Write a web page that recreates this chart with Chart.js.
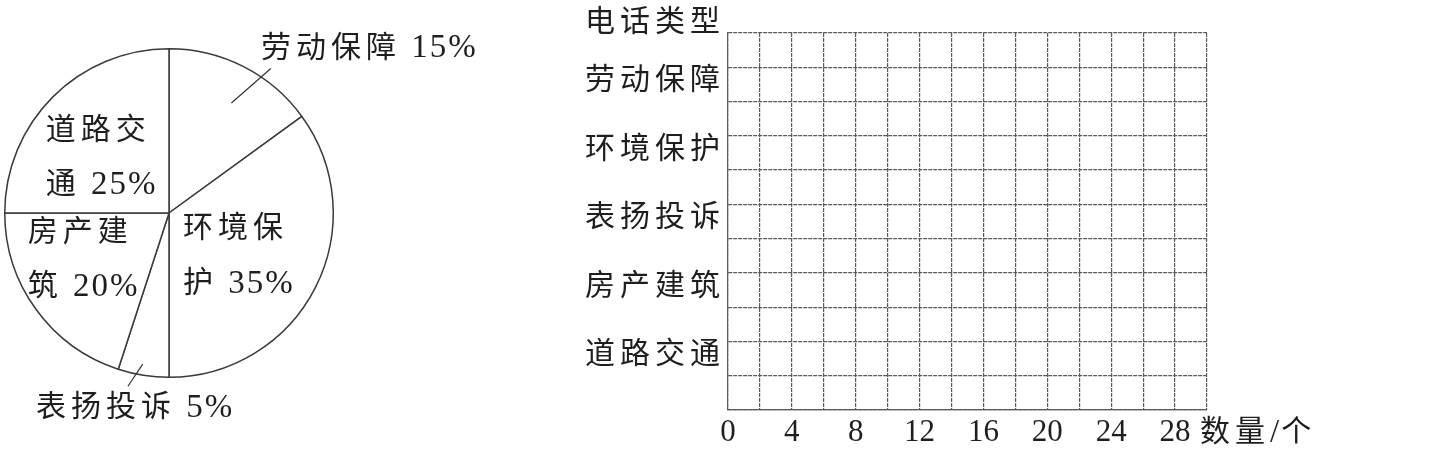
<!DOCTYPE html>
<html>
<head>
<meta charset="utf-8">
<script src="https://cdn.jsdelivr.net/npm/chart.js@4/dist/chart.umd.min.js"></script>
<style>
    html, body { margin: 0; padding: 0; background: #fff; }
    #wrap { position: relative; width: 1451px; height: 449px; }
    #pieBox { position: absolute; left: 0; top: 0; width: 500px; height: 449px; }
    #barBox { position: absolute; left: 560px; top: 0; width: 891px; height: 449px; }
</style>
</head>
<body>
<div id="wrap">
    <div id="pieBox"><canvas id="pieChart"></canvas></div>
    <div id="barBox"><canvas id="barChart"></canvas></div>
</div>
<script>
// phone call types, same order in the pie (clockwise from top) and the grid (top to bottom)
const categories = ['劳动保障', '环境保护', '表扬投诉', '房产建筑', '道路交通'];
const percents = [15, 35, 5, 20, 25];
// the grid on the right is left blank in the original (to be filled in)
const counts = [];
const xTickLabels = [0, 4, 8, 12, 16, 20, 24, 28];
const xStep = 2;
const xMax = 30;
const yTitle = '电话类型';
const xTitle = '数量/个';

const FONT = "'Liberation Serif', 'Noto Sans CJK SC', serif";
const INK = '#1e1e1e';
const GRID = '#5a5a5a';
const CJK_GAP = '5px';

// where each pie label sits, relative to the pie centre in units of the radius
const pieLabelLayout = [
    { split: 0, dx: 0.56, dy: -1.0, leader: [0.38, -0.67, 0.62, -0.88] },
    { split: 3, dx: 0.085, dy: 0.10 },
    { split: 0, dx: -0.81, dy: 1.19, leader: [-0.16, 0.92, -0.25, 1.055] },
    { split: 3, dx: -0.86, dy: 0.12 },
    { split: 3, dx: -0.75, dy: -0.50 }
];

// Chinese runs get wide spacing, digits and signs a serif face
function drawRuns(ctx, text, x, y) {
    const runs = text.match(/[\u4e00-\u9fff]+|[^\u4e00-\u9fff]+/g);
    runs.forEach(run => {
        const cjk = /[\u4e00-\u9fff]/.test(run);
        ctx.font = (cjk ? '30px ' : '33px ') + FONT;
        ctx.letterSpacing = cjk ? CJK_GAP : '2px';
        ctx.fillText(run, x, y);
        x += ctx.measureText(run).width;
    });
}

const pieLabels = {
    id: 'pieLabels',
    afterDraw(chart) {
        const arcs = chart.getDatasetMeta(0).data;
        if (!arcs.length) return;
        const cx = arcs[0].x, cy = arcs[0].y, r = arcs[0].outerRadius;
        const ctx = chart.ctx;
        ctx.save();
        ctx.fillStyle = INK;
        ctx.strokeStyle = '#333';
        ctx.lineWidth = 1.2;
        ctx.textAlign = 'left';
        ctx.textBaseline = 'middle';
        categories.forEach((name, i) => {
            const lay = pieLabelLayout[i];
            const pct = percents[i] + '%';
            const lines = lay.split ? [name.slice(0, lay.split), name.slice(lay.split) + ' ' + pct]
                                    : [name + ' ' + pct];
            lines.forEach((t, k) => {
                drawRuns(ctx, t, cx + lay.dx * r, cy + lay.dy * r + k * 0.333 * r);
            });
            if (lay.leader) {
                const l = lay.leader;
                ctx.beginPath();
                ctx.moveTo(cx + l[0] * r, cy + l[1] * r);
                ctx.lineTo(cx + l[2] * r, cy + l[3] * r);
                ctx.stroke();
            }
        });
        ctx.restore();
    }
};

new Chart(document.getElementById('pieChart').getContext('2d'), {
    type: 'pie',
    data: {
        labels: categories,
        datasets: [{
            data: percents,
            backgroundColor: '#fff',
            borderColor: '#3a3a3a',
            borderWidth: 1.5
        }]
    },
    options: {
        responsive: true,
        maintainAspectRatio: false,
        animation: false,
        layout: { padding: { left: 4, right: 166, top: 48, bottom: 71 } },
        plugins: {
            legend: { display: false },
            tooltip: { enabled: false }
        }
    },
    plugins: [pieLabels]
});

// grid rows: one empty row around each category
const rows = [''];
categories.forEach(c => rows.push(c, ''));

// wide spacing for the Chinese row labels, none for the numbers under the grid
const spacing = {
    id: 'spacing',
    beforeUpdate(chart) { chart.ctx.letterSpacing = CJK_GAP; },
    beforeDraw(chart) { chart.ctx.letterSpacing = CJK_GAP; },
    afterLayout(chart) {
        const x = chart.scales.x;
        if (x._plainDigits) return;
        const orig = x.drawLabels;
        x.drawLabels = function (area) {
            const s = this.ctx.letterSpacing;
            this.ctx.letterSpacing = '0px';
            orig.call(this, area);
            this.ctx.letterSpacing = s;
        };
        x._plainDigits = true;
    }
};

const axisTitles = {
    id: 'axisTitles',
    afterDraw(chart) {
        const { ctx, scales: { x, y } } = chart;
        ctx.save();
        ctx.fillStyle = INK;
        ctx.textBaseline = 'middle';
        ctx.textAlign = 'right';
        ctx.letterSpacing = CJK_GAP;
        ctx.font = '30px ' + FONT;
        ctx.fillText(yTitle, y.right - 3, y.top - 10);
        ctx.textAlign = 'left';
        drawRuns(ctx, xTitle, x.right - 7, x.top + 23);
        ctx.restore();
    }
};

new Chart(document.getElementById('barChart').getContext('2d'), {
    type: 'bar',
    data: {
        labels: rows,
        datasets: [{ label: '数量', data: counts, backgroundColor: '#888' }]
    },
    options: {
        indexAxis: 'y',
        responsive: true,
        maintainAspectRatio: false,
        animation: false,
        layout: { padding: { left: 0, right: 244, top: 33, bottom: 0 } },
        scales: {
            x: {
                type: 'linear',
                min: 0, max: xMax,
                afterFit(scale) { scale.height = 39; },
                afterBuildTicks(scale) {
                    const t = [];
                    for (let v = 0; v <= xMax; v += xStep) t.push({ value: v });
                    scale.ticks = t;
                },
                ticks: {
                    autoSkip: false,
                    maxRotation: 0,
                    padding: 4,
                    color: INK,
                    font: { family: FONT, size: 31 },
                    callback: v => xTickLabels.includes(v) ? String(v) : ''
                },
                grid: { color: GRID, lineWidth: 1.2, drawTicks: false },
                border: { color: GRID, width: 1.2, dash: [4, 1] }
            },
            y: {
                type: 'category',
                offset: true,
                afterFit(scale) { scale.width = 168; },
                ticks: {
                    autoSkip: false,
                    padding: 3,
                    labelOffset: -3,
                    color: INK,
                    font: { family: FONT, size: 30 }
                },
                grid: { offset: true, color: GRID, lineWidth: 1.2, drawTicks: false },
                border: { color: GRID, width: 1.2, dash: [4, 1] }
            }
        },
        plugins: {
            legend: { display: false },
            tooltip: { enabled: false }
        }
    },
    plugins: [spacing, axisTitles]
});
</script>
</body>
</html>
